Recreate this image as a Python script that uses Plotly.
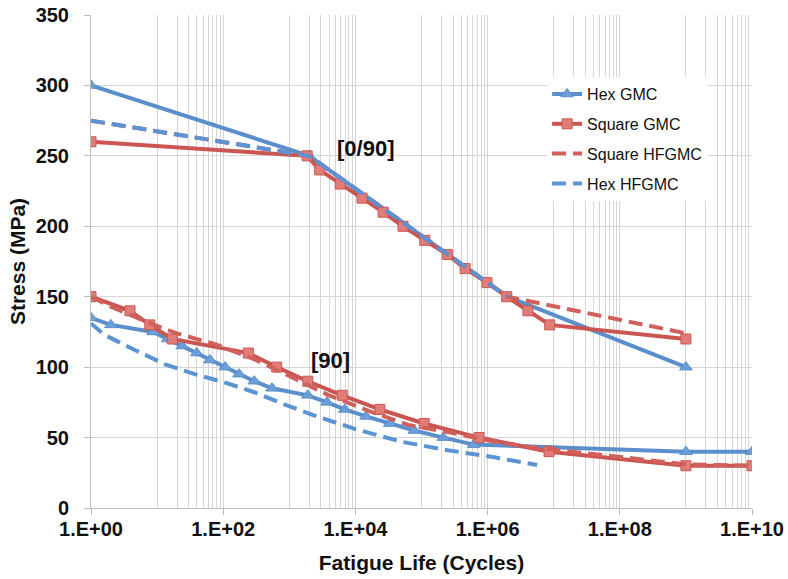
import plotly.graph_objects as go

# ---------------- data (log10 of cycles -> cycles, stress MPa) ----------------
hex_gmc_090_logN = [0.0, 3.3, 6.3, 9.0]
hex_gmc_090_S = [300, 250, 150, 100]

sq_gmc_090_logN = [0.0, 3.27, 3.46, 3.77, 4.10, 4.42, 4.72, 5.05, 5.39, 5.66, 5.99, 6.29, 6.61, 6.94, 9.0]
sq_gmc_090_S = [260, 250, 240, 230, 220, 210, 200, 190, 180, 170, 160, 150, 140, 130, 120]

sq_hf_090_logN = [0.0, 3.3, 6.3, 9.0]
sq_hf_090_S = [275, 250, 150, 124]

hex_hf_090_logN = [0.0, 3.3, 6.3]
hex_hf_090_S = [275, 250, 150]

hex_gmc_90_logN = [0.0, 0.30, 0.94, 1.16, 1.38, 1.60, 1.80, 2.03, 2.24, 2.47, 2.74, 3.28, 3.57, 3.84,
                   4.16, 4.52, 4.89, 5.33, 5.79, 9.0, 10.0]
hex_gmc_90_S = [135, 130, 125, 120, 115, 110, 105, 100, 95, 90, 85, 80, 75, 70, 65, 60, 55, 50, 45, 40, 40]

sq_gmc_90_logN = [0.0, 0.59, 0.89, 1.23, 2.38, 2.81, 3.28, 3.80, 4.37, 5.04, 5.87, 6.93, 9.0, 10.0]
sq_gmc_90_S = [150, 140, 130, 120, 110, 100, 90, 80, 70, 60, 50, 40, 30, 30]

sq_hf_90_logN = [0.0, 0.3, 0.9, 1.3, 1.9, 2.5, 2.9, 3.6, 4.2, 4.8, 5.5, 6.1, 6.7, 9.0, 10.0]
sq_hf_90_S = [150, 143, 131, 124, 116, 105, 96, 80, 69, 59, 53, 47, 43, 31, 30]

hex_hf_90_logN = [0.0, 0.2, 0.67, 1.12, 1.57, 2.03, 2.48, 2.9, 3.36, 4.0, 4.7, 5.4, 6.1, 6.75]
hex_hf_90_S = [131, 123, 112, 102, 95, 89, 82, 74, 66, 56, 47, 41, 36, 30.5]

x_tick_vals = [1e0, 1e2, 1e4, 1e6, 1e8, 1e10]
x_tick_text = ["1.E+00", "1.E+02", "1.E+04", "1.E+06", "1.E+08", "1.E+10"]
y_tick_vals = [0, 50, 100, 150, 200, 250, 300, 350]

labels = ["Hex GMC", "Square GMC", "Square HFGMC", "Hex HFGMC"]

BLUE = "#5A8FCB"
RED = "#CB5651"
FONT = "Liberation Sans"


def N(logs):
    return [10 ** v for v in logs]


fig = go.Figure()

dash = "14px,7px"

series = [
    (labels[0], hex_gmc_090_logN, hex_gmc_090_S, BLUE, "solid", "triangle-up", True),
    (labels[0], hex_gmc_90_logN, hex_gmc_90_S, BLUE, "solid", "triangle-up", False),
    (labels[1], sq_gmc_090_logN, sq_gmc_090_S, RED, "solid", "square", True),
    (labels[1], sq_gmc_90_logN, sq_gmc_90_S, RED, "solid", "square", False),
    (labels[2], sq_hf_090_logN, sq_hf_090_S, "#D0605C", dash, None, True),
    (labels[2], sq_hf_90_logN, sq_hf_90_S, "#D0605C", dash, None, False),
    (labels[3], hex_hf_090_logN, hex_hf_090_S, "#5B93D3", dash, None, True),
    (labels[3], hex_hf_90_logN, hex_hf_90_S, "#5B93D3", dash, None, False),
]

for name, xs, ys, col, dsh, sym, sl in series:
    if sym:
        mfill = "#6C9FDA" if sym == "triangle-up" else "#E27C78"
        marker = dict(symbol=sym, size=10 if sym == "square" else 11, color=mfill,
                      line=dict(color=col, width=1))
        mode = "lines+markers"
    else:
        marker = None
        mode = "lines"
    fig.add_trace(go.Scatter(
        x=N(xs), y=ys, name=name, mode=mode,
        line=dict(color=col, width=4, dash=dsh),
        marker=marker, legendgroup=name, showlegend=sl,
    ))

minor_vals = []
for k in range(0, 10, 2):
    for m in range(10, 100, 10):
        minor_vals.append(m * 10 ** k)

fig.update_layout(
    width=788, height=579,
    margin=dict(l=91, r=36, t=15, b=71),
    paper_bgcolor="white", plot_bgcolor="white",
    showlegend=True,
    legend=dict(x=0.69, y=0.874, xanchor="left", yanchor="top",
                bgcolor="white", font=dict(family=FONT, size=16, color="#111"),
                tracegroupgap=6, itemwidth=30),
    xaxis=dict(
        type="log", range=[0, 10], automargin=False,
        tickmode="array", tickvals=x_tick_vals, ticktext=x_tick_text,
        tickfont=dict(family=FONT, size=20, color="#111", weight="bold"),
        showgrid=True, gridcolor="#D6D6D6", gridwidth=1,
        minor=dict(tickmode="array", tickvals=minor_vals, showgrid=True,
                   gridcolor="#D6D6D6", gridwidth=1, ticks=""),
        showline=True, linecolor="#BDBDBD", linewidth=1,
        ticks="outside", ticklen=6, tickcolor="#BDBDBD",
        ticklabelstandoff=-3,
        title=dict(text="Fatigue Life (Cycles)", standoff=16,
                   font=dict(family=FONT, size=21, color="#111", weight="bold")),
        zeroline=False,
    ),
    yaxis=dict(
        range=[0, 350], automargin=False, tickmode="array", tickvals=y_tick_vals,
        tickfont=dict(family=FONT, size=20, color="#111", weight="bold"),
        showgrid=True, gridcolor="#D6D6D6", gridwidth=1,
        showline=True, linecolor="#BDBDBD", linewidth=1,
        ticks="outside", ticklen=6, tickcolor="#BDBDBD",
        ticklabelstandoff=11,
        title=dict(text="Stress (MPa)", standoff=4,
                   font=dict(family=FONT, size=21, color="#111", weight="bold")),
        zeroline=False,
    ),
    annotations=[
        dict(x=4.15, y=255, xref="x", yref="y", text="[0/90]", showarrow=False,
             font=dict(family=FONT, size=22, color="#111", weight="bold")),
        dict(x=3.62, y=105, xref="x", yref="y", text="[90]", showarrow=False,
             font=dict(family=FONT, size=22, color="#111", weight="bold")),
    ],
)

fig.write_html("out.html")
